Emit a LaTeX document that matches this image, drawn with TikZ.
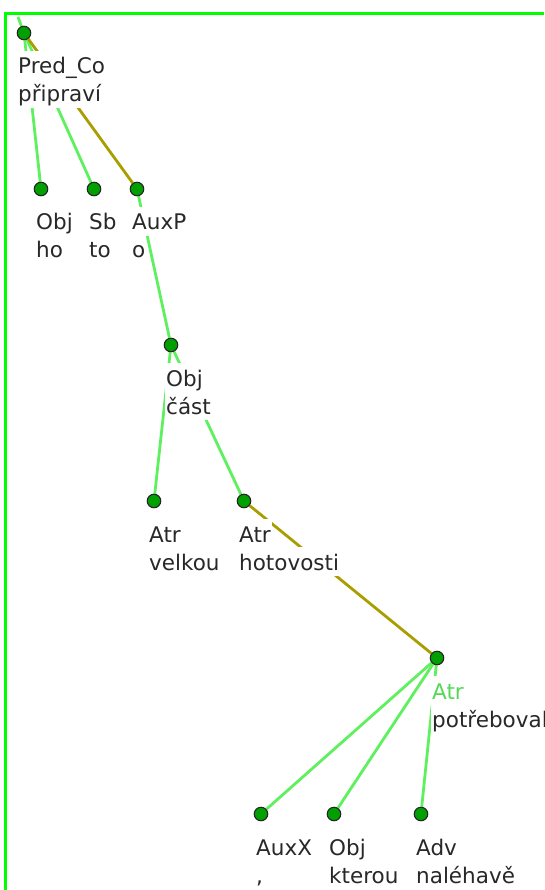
\documentclass[tikz,border=0pt]{standalone}
\usepackage{fontspec}
\setmainfont{DejaVu Sans}
\usetikzlibrary{backgrounds}

\definecolor{edgegreen}{RGB}{95,240,95}
\definecolor{edgeolive}{RGB}{168,158,0}
\definecolor{dotgreen}{RGB}{0,160,0}
\definecolor{framegreen}{RGB}{0,255,0}
\definecolor{txtgray}{RGB}{40,40,40}

\tikzset{
	tnode/.style={circle, draw=black!85, fill=dotgreen, line width=1.1pt, minimum size=13.5pt, inner sep=0pt},
	lbl/.style={anchor=base west, fill=white, inner sep=1pt, text height=22pt, text depth=5pt, text=txtgray, font=\fontsize{21.5}{27}\selectfont},
	dep/.style={draw=edgegreen, line width=2.8pt},
	coord/.style={draw=edgeolive, line width=2.8pt},
}

\begin{document}
\begin{tikzpicture}[x=1pt, y=-1pt]
		\useasboundingbox (0,0) rectangle (544,890);
		\clip (0,0) rectangle (544,890);
		\draw [framegreen, line width=3.5pt] (5.5,13.5) rectangle (600,950);
		
		% tree nodes
		\node [tnode] (root) at (24,33) {};
		\node [tnode] (ho) at (41,189) {};
		\node [tnode] (to) at (94,189) {};
		\node [tnode] (o) at (137,189) {};
		\node [tnode] (cast) at (171,345) {};
		\node [tnode] (velkou) at (154,501) {};
		\node [tnode] (hotov) at (244,501) {};
		\node [tnode] (potr) at (437,658) {};
		\node [tnode] (carka) at (261,814) {};
		\node [tnode] (kterou) at (334,814) {};
		\node [tnode] (naleh) at (421,814) {};
		\coordinate (up) at (18,17);
		
		% edges go behind the labels
		\begin{scope}[on background layer]
		\draw [dep] (root.center) -- (up);
		\draw [dep] (root) -- (ho);
		\draw [dep] (root) -- (to);
		\draw [coord] (root) -- (o);
		\draw [dep] (o) -- (cast);
		\draw [dep] (cast) -- (velkou);
		\draw [dep] (cast) -- (hotov);
		\draw [coord] (hotov) -- (potr);
		\draw [dep] (potr) -- (carka);
		\draw [dep] (potr) -- (kterou);
		\draw [dep] (potr) -- (naleh);
		\end{scope}
		
		% labels: afun, then word form
		\node [lbl] (a-root) at (17,74) {Pred\_Co};
		\node [lbl] (f-root) at (17,102) {připraví};
		\node [lbl] (a-ho) at (35,230) {Obj};
		\node [lbl] (f-ho) at (35,258) {ho};
		\node [lbl] (a-to) at (88,230) {Sb};
		\node [lbl] (f-to) at (88,258) {to};
		\node [lbl] (a-o) at (131,230) {AuxP};
		\node [lbl] (f-o) at (131,258) {o};
		\node [lbl] (a-cast) at (165,386) {Obj};
		\node [lbl] (f-cast) at (165,414) {část};
		\node [lbl] (a-velkou) at (148,542) {Atr};
		\node [lbl] (f-velkou) at (148,570) {velkou};
		\node [lbl] (a-hotov) at (238,542) {Atr};
		\node [lbl] (f-hotov) at (238,570) {hotovosti};
		\node [lbl, text=edgegreen!90!black] (a-potr) at (431,699) {Atr};
		\node [lbl] (f-potr) at (431,727) {potřeboval};
		\node [lbl] (a-carka) at (255,855) {AuxX};
		\node [lbl] (f-carka) at (255,883) {,};
		\node [lbl] (a-kterou) at (328,855) {Obj};
		\node [lbl] (f-kterou) at (328,883) {kterou};
		\node [lbl] (a-naleh) at (415,855) {Adv};
		\node [lbl] (f-naleh) at (415,883) {naléhavě};
\end{tikzpicture}
\end{document}
